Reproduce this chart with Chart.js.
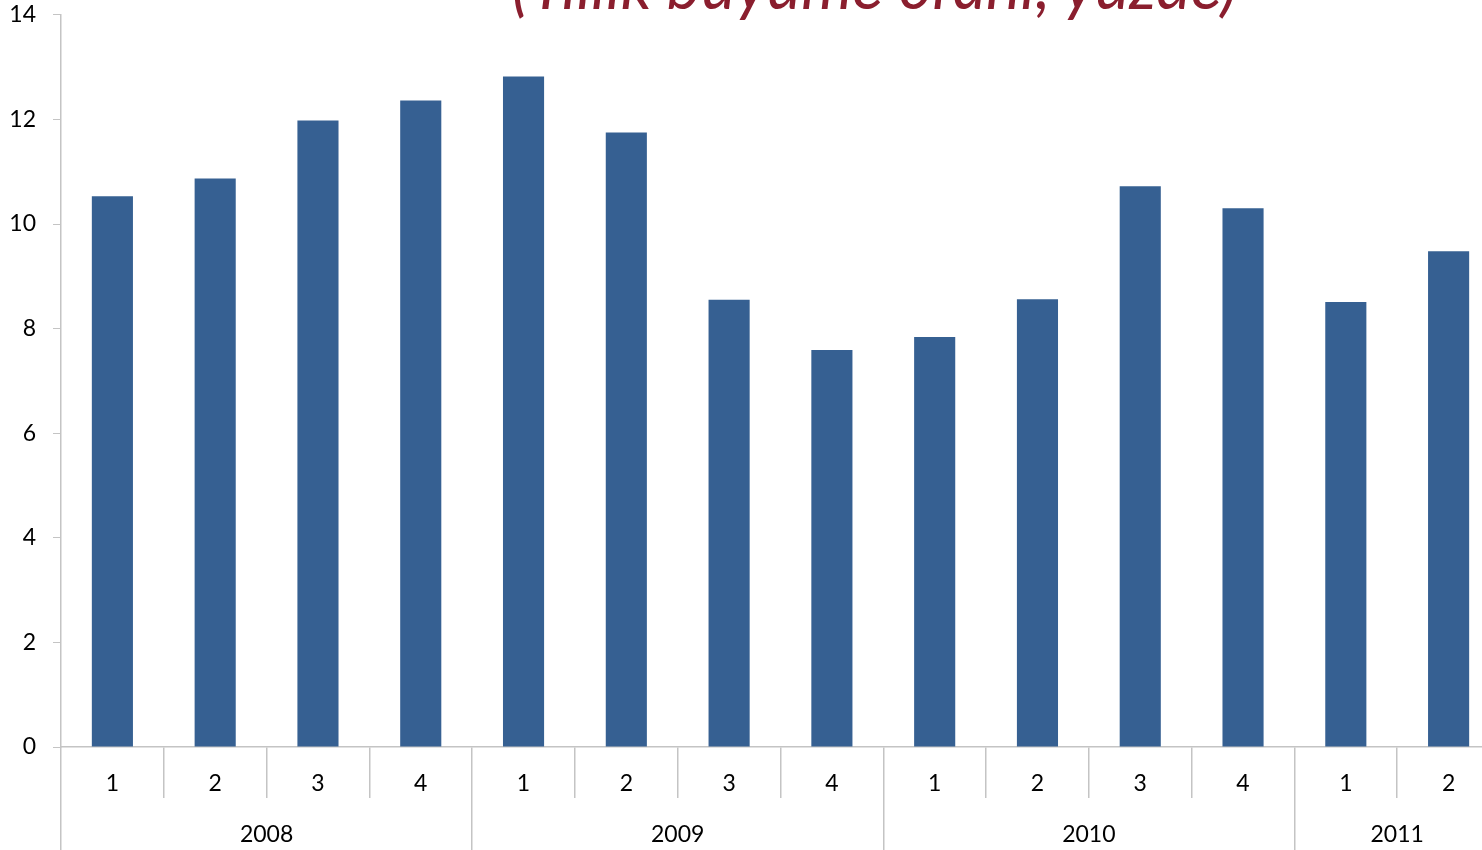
<!DOCTYPE html>
<html>
<head>
<meta charset="utf-8">
<script src="https://cdn.jsdelivr.net/npm/chart.js@4"></script>
<style>
  html, body { margin: 0; padding: 0; background: #fff; overflow: hidden; }
  #wrap { position: relative; width: 1482px; height: 850px; overflow: hidden; }
  #box { position: absolute; left: 0; top: -16px; width: 1500px; height: 866px; }
  #title {
    position: absolute; left: 512px; top: -48px; white-space: nowrap;
    font-family: Lato, sans-serif; font-style: italic; font-size: 65px; line-height: 1;
    color: #8a1e2e;
  }
</style>
</head>
<body>
<div id="wrap">
  <div id="box"><canvas id="growthChart" width="1500" height="866"></canvas></div>
  <div id="title">(Yıllık büyüme oranı, yüzde)</div>
</div>
<script>
// quarters and yearly growth (%)
const quarters = ['1', '2', '3', '4', '1', '2', '3', '4', '1', '2', '3', '4', '1', '2'];
const growth = [10.53, 10.87, 11.98, 12.36, 12.82, 11.75, 8.55, 7.59, 7.84, 8.56, 10.72, 10.3, 8.51, 9.48];
const years = ['2008', '2009', '2010', '2011'];
const yearMid = [2, 6, 10, 13];       // label position in quarter units
const yearEdges = [0, 4, 8, 12, 14];  // separators in quarter units
const yTicks = [0, 2, 4, 6, 8, 10, 12, 14];

const axisGray = '#c4c4c4';
const tickFont = { family: 'Lato, sans-serif', size: 23 };

const ctx = document.getElementById('growthChart');
new Chart(ctx, {
  type: 'bar',
  data: {
    labels: quarters,
    datasets: [{
      data: growth,
      backgroundColor: '#366092',
      barPercentage: 0.4,
      categoryPercentage: 1
    }]
  },
  options: {
    responsive: false,
    animation: false,
    layout: { padding: 0 },
    plugins: { legend: { display: false }, tooltip: { enabled: false } },
    scales: {
      y: {
        min: 0, max: 14,
        afterBuildTicks: (s) => { s.ticks = yTicks.map(v => ({ value: v })); },
        afterFit: (s) => { s.width = 61; },
        grid: { drawOnChartArea: false, color: axisGray, tickLength: 8 },
        border: { color: axisGray, width: 1.5 },
        ticks: { color: '#000', font: tickFont, padding: 17 }
      },
      x: {
        weight: 0,
        afterFit: (s) => { s.height = 51; },
        grid: { offset: true, drawOnChartArea: false, color: axisGray, tickLength: 51, lineWidth: 1.5 },
        border: { color: axisGray, width: 1.5 },
        ticks: { color: '#000', font: tickFont, padding: -28, maxRotation: 0, autoSkip: false }
      },
      x2: {
        type: 'linear',
        position: 'bottom',
        weight: 1,
        min: 0, max: 14,
        offset: false,
        afterBuildTicks: (s) => {
          s.ticks = yearEdges.concat(yearMid).sort((a, b) => a - b).map(v => ({ value: v }));
        },
        afterFit: (s) => { s.height = 52; },
        grid: {
          offset: false, drawOnChartArea: false, tickLength: 52, lineWidth: 1.5,
          color: (c) => (c.tick && yearEdges.includes(c.tick.value)) ? axisGray : 'rgba(0,0,0,0)'
        },
        border: { display: false },
        ticks: {
          color: '#000', font: tickFont, padding: -29, maxRotation: 0, autoSkip: false,
          callback: (v) => { const i = yearMid.indexOf(v); return i >= 0 ? years[i] : ''; }
        }
      }
    }
  }
});
</script>
</body>
</html>
